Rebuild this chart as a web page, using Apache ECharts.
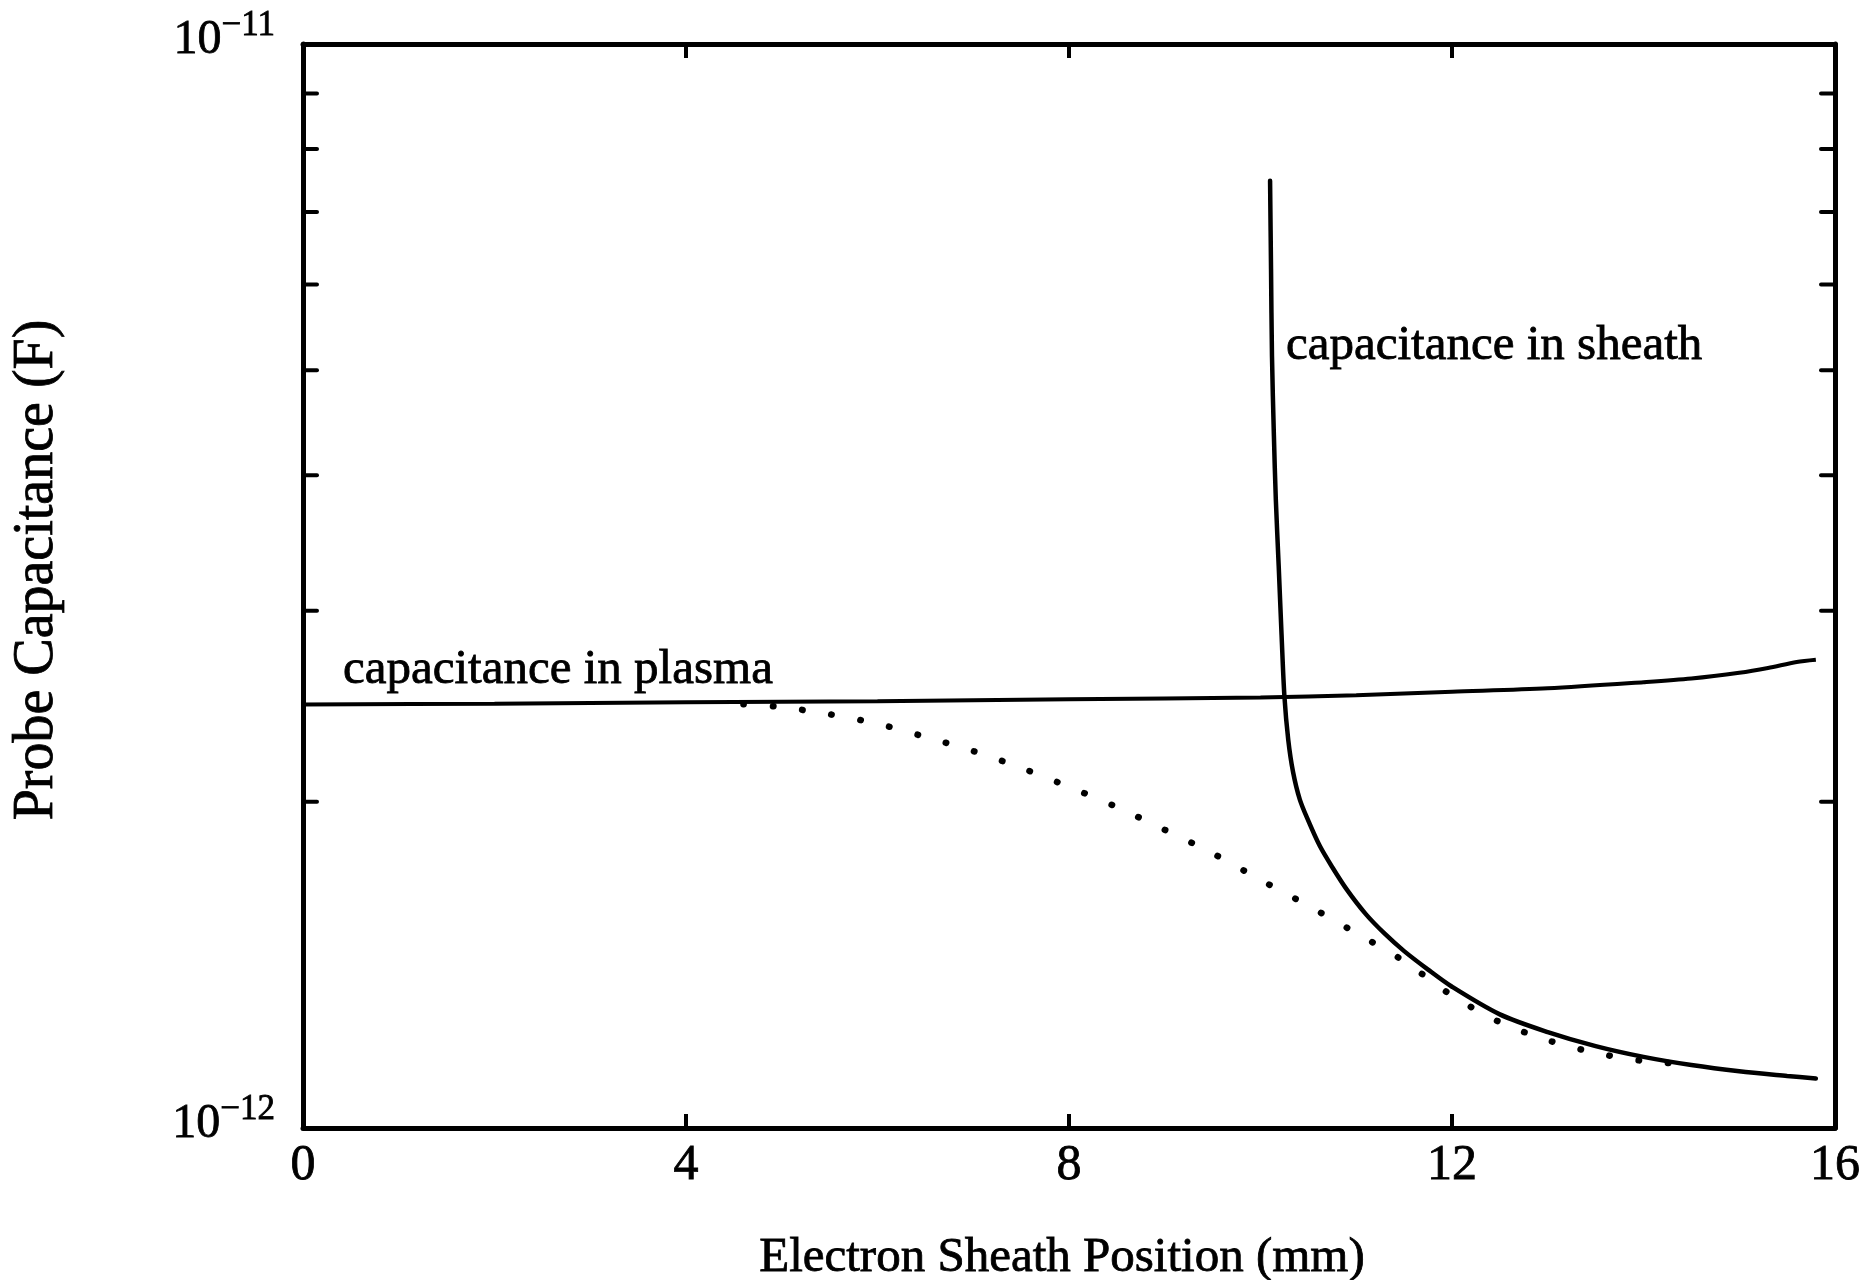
<!DOCTYPE html>
<html><head><meta charset="utf-8">
<script src="https://cdn.jsdelivr.net/npm/echarts@6/dist/echarts.min.js"></script>
<style>html,body{margin:0;padding:0;background:#fff}#c{width:1863px;height:1280px}</style>
</head><body><div id="c"></div>
<script>
// ---- data (x in mm, capacitance in F) ----
const plasmaX = [0, 2, 4, 6, 8, 10, 11, 12, 13, 14, 14.5, 15, 15.3, 15.6, 15.8];
const plasmaY = [2.458e-12, 2.463e-12, 2.470e-12, 2.476e-12, 2.486e-12, 2.495e-12, 2.507e-12, 2.526e-12, 2.545e-12, 2.578e-12, 2.598e-12, 2.630e-12, 2.657e-12, 2.691e-12, 2.704e-12];

const sheathX = [10.10, 10.11, 10.12, 10.14, 10.16, 10.19, 10.22, 10.25, 10.29, 10.34, 10.41, 10.5, 10.62, 10.75, 10.9, 11.1, 11.3, 11.5, 11.75, 12.0, 12.5, 13.0, 13.5, 14.0, 14.5, 15.0, 15.5, 15.8];
const sheathY = [7.48e-12, 6.2e-12, 5.15e-12, 4.35e-12, 3.8e-12, 3.3e-12, 2.85e-12, 2.5e-12, 2.28e-12, 2.13e-12, 2.01e-12, 1.92e-12, 1.82e-12, 1.74e-12, 1.66e-12, 1.575e-12, 1.51e-12, 1.456e-12, 1.40e-12, 1.35e-12, 1.273e-12, 1.226e-12, 1.19e-12, 1.163e-12, 1.143e-12, 1.128e-12, 1.117e-12, 1.111e-12];

const dottedX = [4.6, 5.0, 5.5, 6.0, 6.5, 7.0, 7.5, 8.0, 8.5, 9.0, 9.5, 10.0, 10.5, 11.0, 11.5, 12.0, 12.5, 13.0, 13.5, 14.0, 14.4];
const dottedY = [2.46e-12, 2.445e-12, 2.408e-12, 2.36e-12, 2.295e-12, 2.227e-12, 2.149e-12, 2.064e-12, 1.977e-12, 1.884e-12, 1.792e-12, 1.694e-12, 1.603e-12, 1.513e-12, 1.425e-12, 1.325e-12, 1.252e-12, 1.205e-12, 1.173e-12, 1.153e-12, 1.146e-12];

const xTickInterval = 4;
const yMinorTicks = [2e-12, 3e-12, 4e-12, 5e-12, 6e-12, 7e-12, 8e-12, 9e-12];

const plasmaLabel = 'capacitance in plasma';
const sheathLabel = 'capacitance in sheath';
const xName = 'Electron Sheath Position (mm)';
const yName = 'Probe Capacitance (F)';

// ---- chart ----
const FONT = '"Liberation Serif", "DejaVu Serif", serif';
const TB = {textBorderColor: '#000', textBorderWidth: 0.8};
const pairs = (xs, ys) => xs.map((x, i) => [x, ys[i]]);
const chart = echarts.init(document.getElementById('c'), null, {renderer: 'canvas'});

const axisLine = {show: true, onZero: false, lineStyle: {color: '#000', width: 5}};

chart.setOption({
  animation: false,
  backgroundColor: '#fff',
  grid: {left: 303, right: 28, top: 44, bottom: 152, containLabel: false, outerBoundsMode: 'none'},
  xAxis: [{
    type: 'value', position: 'bottom', min: 0, max: 16, interval: xTickInterval,
    axisLine: axisLine,
    axisTick: {show: true, inside: true, length: 14, lineStyle: {color: '#000', width: 4}},
    axisLabel: Object.assign({show: true, margin: 13, color: '#000', fontFamily: FONT, fontSize: 50}, TB),
    splitLine: {show: false},
    name: xName, nameLocation: 'middle', nameGap: 106,
    nameTextStyle: Object.assign({color: '#000', fontFamily: FONT, fontSize: 49, padding: [0, 14, 0, 0]}, TB)
  }, {
    type: 'value', position: 'top', min: 0, max: 16, interval: xTickInterval,
    axisLine: axisLine,
    axisTick: {show: true, inside: true, length: 14, lineStyle: {color: '#000', width: 4}},
    axisLabel: {show: false},
    splitLine: {show: false}
  }],
  yAxis: [{
    type: 'log', logBase: 10, position: 'left', min: 1e-12, max: 1e-11,
    axisLine: axisLine,
    axisTick: {show: false},
    splitLine: {show: false},
    axisLabel: {
      show: true, margin: 28, color: '#000', padding: [0, 0, 16, 0],
      formatter: function (v) {
        const e = Math.round(Math.log10(v));
        return '{b|10}{s|\u2212' + Math.abs(e) + '}';
      },
      rich: {
        b: Object.assign({fontFamily: FONT, fontSize: 48, lineHeight: 56, verticalAlign: 'bottom', color: '#000'}, TB),
        s: Object.assign({fontFamily: FONT, fontSize: 35, lineHeight: 35, verticalAlign: 'top', color: '#000'}, TB)
      }
    },
    name: yName, nameLocation: 'middle', nameGap: 238, nameRotate: 90,
    nameTextStyle: Object.assign({color: '#000', fontFamily: FONT, fontSize: 56, padding: [0, 0, 0, 32]}, TB)
  }, {
    type: 'log', logBase: 10, position: 'right', min: 1e-12, max: 1e-11,
    axisLine: axisLine,
    axisTick: {show: false},
    splitLine: {show: false},
    axisLabel: {show: false}
  }],
  series: [
    {
      type: 'custom', xAxisIndex: 0, yAxisIndex: 0, silent: true, z: 5,
      data: yMinorTicks.map(v => [0, v]),
      renderItem: function (params, api) {
        const v = api.value(1);
        const l = api.coord([0, v]);
        const r = api.coord([16, v]);
        const len = 14;
        return {
          type: 'group',
          children: [
            {type: 'line', shape: {x1: l[0], y1: l[1], x2: l[0] + len, y2: l[1]}, style: {stroke: '#000', lineWidth: 4, lineCap: 'round'}},
            {type: 'line', shape: {x1: r[0], y1: r[1], x2: r[0] - len, y2: r[1]}, style: {stroke: '#000', lineWidth: 4, lineCap: 'round'}}
          ]
        };
      }
    },
    {
      type: 'line', name: 'dotted', data: pairs(dottedX, dottedY), smooth: 0.3,
      showSymbol: false, symbol: 'none', z: 2,
      lineStyle: {color: '#000', width: 6.5, type: [0.5, 29], cap: 'round'}
    },
    {
      type: 'line', name: 'plasma', data: pairs(plasmaX, plasmaY), smooth: 0.3,
      showSymbol: false, symbol: 'none', z: 3,
      lineStyle: {color: '#000', width: 4}
    },
    {
      type: 'line', name: 'sheath', data: pairs(sheathX, sheathY), smooth: 0.3,
      showSymbol: false, symbol: 'none', z: 3,
      lineStyle: {color: '#000', width: 4.5, cap: 'round'}
    }
  ],
  graphic: [
    {type: 'text', x: 343, y: 670, style: {text: plasmaLabel, fill: '#000', fontFamily: FONT, fontSize: 49, verticalAlign: 'middle', align: 'left', stroke: '#000', lineWidth: 0.8}},
    {type: 'text', x: 1286, y: 346, style: {text: sheathLabel, fill: '#000', fontFamily: FONT, fontSize: 49, verticalAlign: 'middle', align: 'left', stroke: '#000', lineWidth: 0.8}}
  ]
});
</script>
</body></html>
